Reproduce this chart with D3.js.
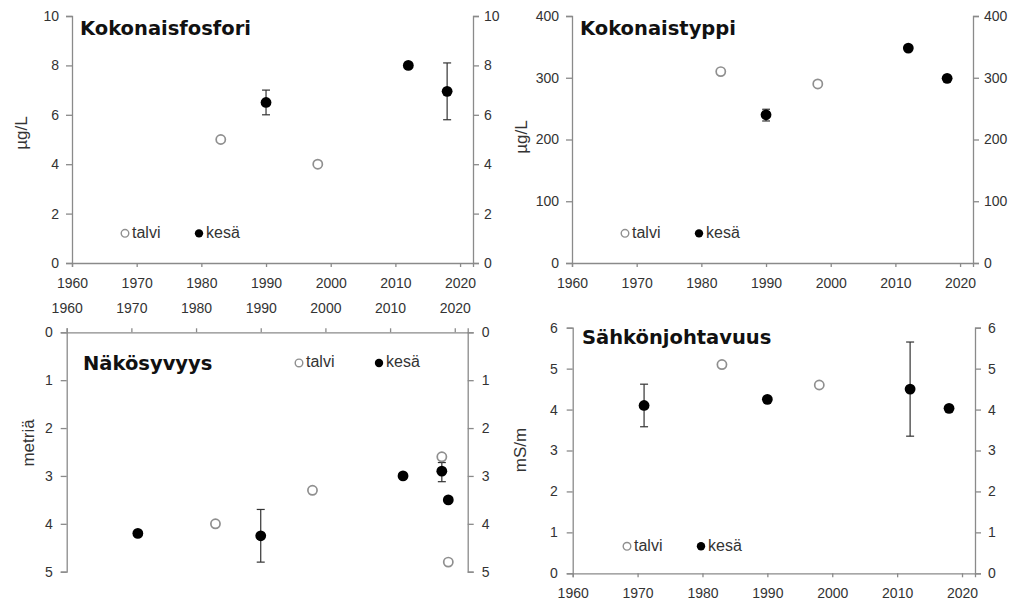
<!DOCTYPE html>
<html>
<head>
<meta charset="utf-8">
<script src="https://cdn.jsdelivr.net/npm/d3@7/dist/d3.min.js"></script>
<style>
  html, body { margin: 0; padding: 0; background: #fff; }
  svg { display: block; }
  .tick text { font-family: "Liberation Sans", Arial, sans-serif; font-size: 14px; fill: #333; }
  .domain, .tick line { stroke: #8a8a8a; stroke-width: 1.3px; }
</style>
</head>
<body>
<svg id="chart" width="1016" height="606"></svg>
<script>
// Year ticks shared by every panel
const yearTicks = [1960, 1970, 1980, 1990, 2000, 2010, 2020];
const yearDomain = [1960, 2022];

// Kokonaisfosfori (µg/L)
const fosforiTicks = [0, 2, 4, 6, 8, 10];
const fosforiTalvi = [
  { year: 1983, value: 5.0 },
  { year: 1998, value: 4.0 }
];
const fosforiKesa = [
  { year: 1990, value: 6.5, low: 6.0, high: 7.0 },
  { year: 2012, value: 8.0 },
  { year: 2018, value: 6.95, low: 5.8, high: 8.1 }
];

// Kokonaistyppi (µg/L)
const typpiTicks = [0, 100, 200, 300, 400];
const typpiTalvi = [
  { year: 1983, value: 310 },
  { year: 1998, value: 290 }
];
const typpiKesa = [
  { year: 1990, value: 240, low: 230, high: 249 },
  { year: 2012, value: 348 },
  { year: 2018, value: 299 }
];

// Näkösyvyys (metriä), depth axis grows downward
const nakoTicks = [0, 1, 2, 3, 4, 5];
const nakoTalvi = [
  { year: 1983, value: 4.0 },
  { year: 1998, value: 3.3 },
  { year: 2018, value: 2.6 },
  { year: 2019, value: 4.8 }
];
const nakoKesa = [
  { year: 1971, value: 4.2 },
  { year: 1990, value: 4.25, low: 3.7, high: 4.8 },
  { year: 2012, value: 3.0 },
  { year: 2018, value: 2.9, low: 2.72, high: 3.12 },
  { year: 2019, value: 3.5 }
];

// Sähkönjohtavuus (mS/m)
const sahkoTicks = [0, 1, 2, 3, 4, 5, 6];
const sahkoTalvi = [
  { year: 1983, value: 5.1 },
  { year: 1998, value: 4.6 }
];
const sahkoKesa = [
  { year: 1971, value: 4.1, low: 3.58, high: 4.62 },
  { year: 1990, value: 4.25 },
  { year: 2012, value: 4.5, low: 3.35, high: 5.65 },
  { year: 2018, value: 4.03 }
];

const legendLabels = ["talvi", "kesä"];

const panels = [
  { title: "Kokonaisfosfori", unit: "µg/L", ticks: fosforiTicks, talvi: fosforiTalvi, kesa: fosforiKesa,
    x0: 72, x1: 473, yZero: 263, yEnd: 16, xTop: false, xPad: 11, lPad: 7, rPad: 5,
    titlePos: [80, 35], unitPos: [23, 133], legend: { value: 1.2, x: [125, 199] } },
  { title: "Kokonaistyppi", unit: "µg/L", ticks: typpiTicks, talvi: typpiTalvi, kesa: typpiKesa,
    x0: 572, x1: 973, yZero: 263, yEnd: 16, xTop: false, xPad: 11, lPad: 7, rPad: 5,
    titlePos: [580, 35], unitPos: [523, 137], legend: { value: 48, x: [625, 699] } },
  { title: "Näkösyvyys", unit: "metriä", ticks: nakoTicks, talvi: nakoTalvi, kesa: nakoKesa,
    x0: 66.7, x1: 467.7, yZero: 332.3, yEnd: 571.7, xTop: true, xPad: 15, lPad: 8, rPad: 8,
    titlePos: [83, 370], unitPos: [30, 443], legend: { value: 0.64, x: [299, 379] } },
  { title: "Sähkönjohtavuus", unit: "mS/m", ticks: sahkoTicks, talvi: sahkoTalvi, kesa: sahkoKesa,
    x0: 572.7, x1: 975, yZero: 573.3, yEnd: 327.7, xTop: false, xPad: 11, lPad: 9, rPad: 7,
    titlePos: [582, 344], unitPos: [522, 450], legend: { value: 0.66, x: [627, 701] } }
];

const svg = d3.select("#chart");
const font = '"Liberation Sans", Arial, sans-serif';

panels.forEach(p => {
  const g = svg.append("g");
  const x = d3.scaleLinear().domain(yearDomain).range([p.x0, p.x1]);
  const y = d3.scaleLinear().domain([p.ticks[0], p.ticks[p.ticks.length - 1]]).range([p.yZero, p.yEnd]);
  const yTop = Math.min(p.yZero, p.yEnd);
  const yBottom = Math.max(p.yZero, p.yEnd);

  // year axis (bottom, or top for the depth panel)
  const xAxis = (p.xTop ? d3.axisTop(x) : d3.axisBottom(x))
    .tickValues(yearTicks).tickFormat(d3.format("d")).tickSizeOuter(0).tickSize(4).tickPadding(p.xPad);
  g.append("g")
    .attr("transform", `translate(0,${p.xTop ? yTop : yBottom})`)
    .call(xAxis);

  // value axes on both sides
  const yLeft = d3.axisLeft(y).tickValues(p.ticks).tickFormat(d3.format("d"))
    .tickSizeOuter(0).tickSize(6).tickPadding(p.lPad);
  const yRight = d3.axisRight(y).tickValues(p.ticks).tickFormat(d3.format("d"))
    .tickSizeOuter(0).tickSize(6).tickPadding(p.rPad);
  g.append("g").attr("transform", `translate(${p.x0},0)`).call(yLeft);
  g.append("g").attr("transform", `translate(${p.x1},0)`).call(yRight);

  // title
  g.append("text")
    .attr("x", p.titlePos[0]).attr("y", p.titlePos[1])
    .attr("font-family", '"DejaVu Sans", sans-serif')
    .attr("font-weight", "bold").attr("font-size", 19.5)
    .attr("fill", "#111")
    .text(p.title);

  // unit label
  g.append("text")
    .attr("transform", `translate(${p.unitPos[0]},${p.unitPos[1]}) rotate(-90)`)
    .attr("text-anchor", "middle").attr("dominant-baseline", "middle")
    .attr("font-family", font).attr("font-size", 17).attr("fill", "#333")
    .text(p.unit);

  // error bars for summer means
  const errs = p.kesa.filter(d => d.low !== undefined);
  const eg = g.append("g").attr("stroke", "#333").attr("stroke-width", 1.2);
  eg.selectAll("line.v").data(errs).join("line")
    .attr("x1", d => x(d.year)).attr("x2", d => x(d.year))
    .attr("y1", d => y(d.low)).attr("y2", d => y(d.high));
  eg.selectAll("line.lo").data(errs).join("line")
    .attr("x1", d => x(d.year) - 4).attr("x2", d => x(d.year) + 4)
    .attr("y1", d => y(d.low)).attr("y2", d => y(d.low));
  eg.selectAll("line.hi").data(errs).join("line")
    .attr("x1", d => x(d.year) - 4).attr("x2", d => x(d.year) + 4)
    .attr("y1", d => y(d.high)).attr("y2", d => y(d.high));

  // winter points: open circles
  g.selectAll("circle.talvi").data(p.talvi).join("circle")
    .attr("cx", d => x(d.year)).attr("cy", d => y(d.value)).attr("r", 4.6)
    .attr("fill", "#fff").attr("stroke", "#8f8f8f").attr("stroke-width", 1.7);

  // summer points: filled circles
  g.selectAll("circle.kesa").data(p.kesa).join("circle")
    .attr("cx", d => x(d.year)).attr("cy", d => y(d.value)).attr("r", 5.4)
    .attr("fill", "#000");

  // legend
  const ly = y(p.legend.value);
  const lg = g.append("g");
  lg.append("circle").attr("cx", p.legend.x[0]).attr("cy", ly).attr("r", 3.8)
    .attr("fill", "#fff").attr("stroke", "#8f8f8f").attr("stroke-width", 1.4);
  lg.append("circle").attr("cx", p.legend.x[1]).attr("cy", ly).attr("r", 4.2).attr("fill", "#000");
  legendLabels.forEach((t, i) => {
    lg.append("text")
      .attr("x", p.legend.x[i] + 7).attr("y", ly)
      .attr("dominant-baseline", "middle")
      .attr("font-family", font).attr("font-size", 16).attr("fill", "#333")
      .text(t);
  });
});
</script>
</body>
</html>
